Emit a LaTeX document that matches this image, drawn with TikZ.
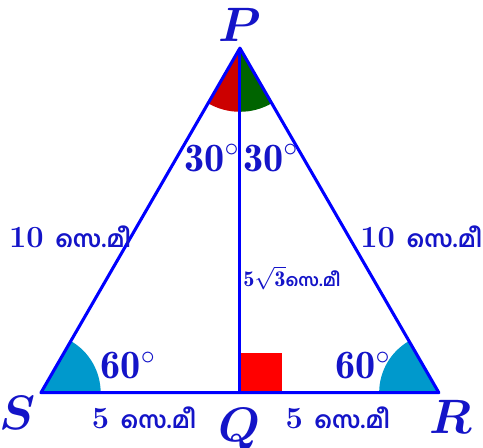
\documentclass[tikz,border=0pt]{standalone}
\usepackage{amsmath,amssymb}
\usepackage{fontspec}
\usetikzlibrary{positioning,calc}
\newfontfamily\mlfont[Script=Malayalam,Scale=0.75]{Hind Kochi}
\definecolor{sideblue}{HTML}{0000FF}
\definecolor{labelblue}{HTML}{1414C8}
\definecolor{angred}{HTML}{CC0000}
\definecolor{anggreen}{HTML}{006400}
\definecolor{angteal}{HTML}{0099CC}

\begin{document}
\begin{tikzpicture}[x=0.5cm, y=0.5cm,
    side/.style={line width=1.1pt, color=sideblue, line join=round},
    vlabel/.style={color=labelblue, font=\LARGE\boldmath},
    anglabel/.style={color=labelblue, font=\Large\bfseries, inner sep=0pt},
    lenlabel/.style={color=labelblue, font=\fontsize{11}{13}\selectfont\bfseries, inner sep=1pt}]
        \useasboundingbox (-6.03, -1.38) rectangle (6.11, 9.87);

        \coordinate (S) at (-5, 0);
        \coordinate (R) at (5, 0);
        \coordinate (P) at (0, 8.66);
        \coordinate (Q) at (0, 0);

        % angles at P
        \fill[angred] (P) -- ++(240:1.6) arc (240:270:1.6) -- cycle;
        \fill[anggreen] (P) -- ++(270:1.6) arc (270:300:1.6) -- cycle;

        % angles at S and R
        \fill[angteal] (S) -- ++(0:1.5) arc (0:60:1.5) -- cycle;
        \fill[angteal] (R) -- ++(180:1.5) arc (180:120:1.5) -- cycle;

        % right angle at Q
        \fill[red] (Q) rectangle ++(1.05, 1.0);

        % sides
        \draw[side] (S) -- (R) -- (P) -- cycle;
        \draw[side] (P) -- (Q);

        % vertices
        \node[vlabel] (lblP) at (0, 9.25) {$P$};
        \node[vlabel] (lblS) at (-5.58, -0.5) {$S$};
        \node[vlabel] (lblR) at (5.3, -0.62) {$R$};
        \node[vlabel] (lblQ) at (0, -0.92) {$Q$};

        % angle values
        \node[anglabel] (angPl) at (-0.7, 5.9) {$\mathbf{30^\circ}$};
        \node[anglabel] (angPr) at (0.78, 5.9) {$\mathbf{30^\circ}$};
        \node[anglabel] (angS) at (-2.8, 0.68) {$\mathbf{60^\circ}$};
        \node[anglabel] (angR) at (3.1, 0.68) {$\mathbf{60^\circ}$};

        % lengths
        \node[lenlabel] (lenPS) at (-4.27, 3.92) {10 {\mlfont സെ.മീ}};
        \node[lenlabel] (lenPR) at (4.56, 3.92) {10 {\mlfont സെ.മീ}};
        \node[lenlabel, font=\fontsize{8}{10}\selectfont\bfseries] (lenPQ) at (1.31, 2.89) {$\mathbf{5\sqrt{3}}${\mlfont സെ.മീ}};
        \node[lenlabel] (lenSQ) at (-2.41, -0.62) {5 {\mlfont സെ.മീ}};
        \node[lenlabel] (lenQR) at (2.46, -0.62) {5 {\mlfont സെ.മീ}};
    \end{tikzpicture}
\end{document}
